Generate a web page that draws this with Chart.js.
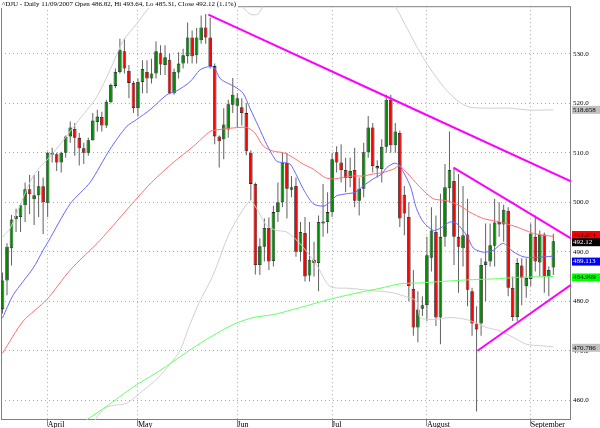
<!DOCTYPE html>
<html lang="en">
<head>
<meta charset="UTF-8">
<title>^DJU Daily</title>
<script src="https://cdn.jsdelivr.net/npm/chart.js"></script>
<style>
  body { margin: 0; padding: 0; background: #fff; }
  .chart-container { position: relative; width: 600px; height: 428px; }
</style>
</head>
<body>
<div class="chart-container"><canvas id="djuChart" width="600" height="428"></canvas></div>
<script>
// Daily candles, late March .. 11 Sep 2007 (one entry per trading day)
const opens = [
  478.4, 484.2, 490.7, 496.6, 497.0, 499.4, 502.6, 500.6, 501.4, 503.2,
  499.9, 509.6, 509.7, 508.0, 510.0, 513.3, 514.8, 513.0, 510.9, 510.0,
  512.5, 516.2, 517.2, 515.5, 520.2, 523.5, 526.3, 530.5, 526.5, 524.1,
  519.0, 524.3, 526.3, 525.0, 526.0, 530.1, 527.7, 528.8, 522.0, 526.2,
  528.0, 529.5, 533.3, 529.7, 532.7, 535.3, 533.3, 527.5, 513.3, 512.7,
  514.7, 519.7, 519.5, 519.2, 518.0, 510.0, 503.7, 487.3, 491.0, 494.8,
  488.1, 498.0, 500.0, 507.9, 502.5, 503.3, 490.0, 493.8, 485.2, 488.4,
  487.7, 495.7, 496.0, 498.0, 510.1, 508.0, 506.5, 504.9, 506.5, 500.3,
  502.7, 510.1, 515.1, 507.3, 506.7, 511.2, 520.7, 511.5, 514.0, 501.5,
  497.0, 482.5, 474.7, 478.5, 479.2, 488.8, 494.0, 476.7, 493.0, 502.8,
  504.3, 493.0, 490.7, 493.5, 482.0, 475.5, 475.5, 487.3, 488.0, 491.2,
  496.0, 495.5, 498.3, 482.7, 476.8, 487.2, 483.0, 484.5, 493.0, 487.8,
  493.5, 485.0, 486.82
];
const highs = [
  485.8, 491.7, 497.4, 498.7, 499.8, 504.0, 505.5, 505.5, 506.3, 505.0,
  510.2, 511.0, 510.0, 510.2, 513.5, 516.3, 516.0, 514.0, 512.0, 513.0,
  518.0, 518.7, 518.3, 520.7, 524.0, 527.0, 533.0, 533.0, 527.7, 524.5,
  525.0, 528.7, 528.7, 529.0, 532.5, 531.7, 531.7, 530.0, 527.0, 530.3,
  531.0, 536.3, 534.7, 535.2, 537.7, 538.0, 537.3, 528.0, 513.5, 519.0,
  520.7, 525.1, 522.0, 521.0, 520.0, 510.5, 504.0, 492.7, 496.7, 496.9,
  499.3, 504.0, 510.0, 510.0, 505.3, 505.0, 496.0, 497.0, 496.0, 492.0,
  497.3, 503.7, 502.0, 510.0, 511.3, 511.7, 509.0, 509.0, 511.0, 505.0,
  512.0, 517.4, 516.0, 508.5, 512.7, 521.7, 521.7, 516.0, 514.5, 503.3,
  500.0, 486.3, 482.0, 481.0, 493.0, 499.0, 497.3, 501.7, 507.7, 514.3,
  507.0, 505.7, 503.3, 500.7, 482.7, 479.0, 488.7, 495.7, 495.7, 500.7,
  500.0, 499.5, 499.0, 485.0, 488.7, 488.7, 488.7, 495.7, 497.3, 494.3,
  493.9, 487.0, 493.64
];
const lows = [
  477.5, 481.2, 487.2, 494.0, 494.0, 496.0, 497.6, 495.4, 497.0, 493.6,
  497.0, 508.0, 506.3, 506.0, 509.0, 512.0, 509.4, 507.4, 507.7, 509.4,
  512.4, 514.3, 514.3, 515.0, 520.0, 523.0, 526.0, 526.0, 521.0, 518.0,
  517.3, 522.0, 522.0, 524.0, 525.0, 525.7, 525.7, 521.8, 521.7, 525.0,
  527.0, 528.0, 528.0, 528.0, 532.0, 532.0, 527.0, 511.7, 507.0, 508.7,
  513.0, 518.0, 515.0, 515.5, 509.5, 500.4, 485.4, 485.3, 488.0, 486.3,
  487.0, 496.0, 499.0, 496.7, 501.0, 489.0, 488.0, 484.0, 484.0, 485.0,
  482.0, 493.0, 493.7, 497.0, 506.0, 504.0, 502.0, 503.0, 499.0, 497.3,
  501.0, 509.0, 506.0, 505.0, 504.0, 510.0, 510.0, 510.0, 495.0, 493.3,
  480.0, 473.0, 471.7, 477.0, 476.0, 486.0, 475.0, 471.3, 491.0, 500.0,
  487.3, 481.7, 487.0, 479.0, 473.0, 457.7, 473.0, 480.0, 487.0, 487.0,
  493.0, 492.0, 481.0, 476.0, 476.0, 479.2, 480.7, 483.0, 486.0, 485.0,
  481.7, 481.0, 485.31
];
const closes = [
  484.2, 491.0, 496.5, 497.2, 499.4, 502.6, 501.6, 501.4, 503.2, 500.0,
  510.0, 510.0, 508.0, 510.0, 513.3, 515.1, 513.0, 510.9, 510.0, 512.5,
  516.5, 517.3, 515.5, 520.3, 523.7, 526.3, 530.8, 527.0, 524.1, 519.0,
  524.3, 526.9, 525.0, 526.0, 530.5, 527.8, 529.3, 522.0, 526.3, 528.0,
  529.7, 533.3, 529.5, 533.3, 535.3, 533.3, 527.5, 513.3, 512.3, 515.7,
  519.8, 521.7, 521.0, 518.0, 510.3, 503.7, 487.3, 491.1, 494.8, 488.0,
  498.0, 500.0, 508.0, 502.7, 503.0, 490.0, 494.0, 485.0, 488.4, 487.7,
  496.0, 496.1, 498.0, 508.7, 508.0, 506.5, 504.9, 506.3, 500.3, 502.7,
  510.1, 515.1, 507.3, 506.8, 511.2, 520.7, 511.5, 514.3, 496.7, 497.7,
  483.0, 474.7, 478.3, 479.2, 489.3, 494.3, 476.7, 493.0, 503.0, 506.5,
  493.0, 491.0, 493.3, 482.3, 475.5, 474.3, 487.3, 488.0, 491.3, 495.9,
  495.5, 498.5, 482.7, 476.8, 487.7, 484.7, 484.7, 493.7, 488.0, 493.5,
  485.0, 486.3, 492.12
];

// month starts (candle index) and their labels
const monthIdx = [10, 30, 52, 73, 94, 117];
const monthLabels = ['April', 'May', 'Jun', 'Jul', 'August', 'September'];
const yTicks = [460, 470, 480, 490, 500, 510, 520, 530];

// overlays as [candle index, value]
const ma20 = [
  [0, 476.6], [2.4, 481.3], [6.8, 486.7], [9.0, 490.3], [10.1, 492], [15, 499.7], [19.4, 504],
  [23.8, 510.7], [27.5, 515.3], [29.7, 516.7], [32.7, 518.7], [36.4, 521.7], [38.6, 522.5],
  [41.5, 524.3], [43.7, 526.7], [45.2, 527.3], [46.7, 527.3], [48.2, 525], [49.3, 524.3],
  [51.5, 523.3], [53.3, 522], [54.8, 519], [56.7, 515.3], [58.5, 511.7], [60.7, 508.3],
  [62.2, 508], [63.7, 507.7], [65.2, 505.3], [66.6, 502.7], [68.8, 499.7], [71.1, 499.2],
  [72.5, 500], [74, 501.3], [76.2, 501.7], [78.1, 502], [79.9, 503.3], [82.1, 504.7],
  [84, 505.7], [85.1, 507], [86.9, 507.9], [88, 507.3], [90.3, 503.3], [91.7, 498.7],
  [93.2, 496], [95.4, 494.3], [96.9, 494.7], [99.1, 496], [100.6, 495.7], [102.8, 493.3],
  [104.3, 490.7], [106.5, 489.9], [108.7, 490.3], [110.9, 491.7], [113.1, 490], [115.3, 489],
  [117.6, 488.8], [122, 489.113]
];
const ma50 = [
  [0, 469.5], [4.6, 476], [9.8, 480.3], [15, 486.3], [21.6, 492.3], [29, 500], [33, 504],
  [37.8, 508], [42.3, 511.3], [46, 514.3], [48.2, 514.7], [51.1, 515], [54.1, 515.1],
  [55.9, 514], [57.8, 511.3], [60, 510.3], [62.2, 510], [64.4, 509], [66.6, 507.7],
  [68.8, 506.7], [71.4, 505], [73.3, 504.7], [75.5, 505], [77.7, 505.3], [79.9, 505.3],
  [82.1, 505.7], [84.3, 506], [86.6, 506.7], [88, 507.3], [92.5, 503], [95.4, 500.7],
  [98.4, 500.3], [101.3, 499.3], [103.5, 498], [106.5, 496.7], [110.2, 496], [113.9, 495],
  [117.6, 493.7], [122, 493.074]
];
const ma200 = [
  [15, 453.7], [18.6, 456], [23.1, 458.8], [29, 462.7], [34.9, 466], [40.8, 469.7],
  [45.2, 472.3], [51.1, 475.3], [55.5, 476.7], [60, 477.3], [65.9, 478.7], [72.5, 480.4],
  [79.2, 481.8], [83.6, 482.6], [88, 483.5], [92.5, 483.7], [97.6, 484], [102.8, 484.3],
  [108.7, 484.5], [113.9, 484.8], [122, 484.999]
];
const bandUpper = [
  [0, 493], [1.7, 494.7], [6.8, 505.3], [11.3, 510], [16.4, 516], [20.9, 521.3], [23.8, 526.7],
  [26.8, 532.7], [29.7, 536], [31.9, 538.7], [33.4, 540], [39.3, 544], [48.2, 543],
  [52.6, 540], [54.8, 538], [56.6, 538], [58.1, 540], [65.9, 543], [77, 542], [86.3, 540],
  [89.1, 536], [92, 531], [94.7, 527], [98, 523], [100.9, 520.4], [103.5, 519.2], [108, 519],
  [112.4, 519], [116.8, 518.6], [122, 518.658]
];
const bandLower = [
  [17, 450], [20.5, 456], [23.1, 458.6], [27.5, 459.4], [31.2, 462], [34.2, 464.3], [37.1, 467.3],
  [39.3, 470], [41.5, 475.3], [43.7, 480], [46, 484], [47.4, 487], [50.4, 494], [54.8, 500.3],
  [56.3, 498.7], [58.5, 495.3], [60.7, 494.3], [62.9, 494], [65.2, 492.3], [67.4, 490],
  [69.6, 487.3], [72.5, 483], [77, 482.6], [81.4, 482.2], [85.8, 481.8], [88, 481.3],
  [91.7, 480], [92.5, 476.7], [95.4, 476.3], [99.1, 476.7], [102.8, 476.3], [107.2, 474.7],
  [110.2, 474], [113.1, 472.7], [116.1, 471.3], [119.1, 471], [122, 470.786]
];
const trendTop = [[45.6, 537.9], [125.9, 504.2]];
const trendMid = [[99.9, 507.0], [125.9, 492.7]];
const trendLow = [[105.2, 470.0], [125.9, 483.3]];

const titleText = '^DJU - Daily 11/09/2007 Open 486.82, Hi 493.64, Lo 485.31, Close 492.12 (1.1%)';
const lastValues = [518.658, 493.074, 492.12, 489.113, 484.999, 470.786];

const toXY = pts => pts.map(p => ({ x: p[0], y: p[1] }));
const wicks = lows.map((l, i) => ({ x: i, y: [l, highs[i]] }));
const bodies = opens.map((o, i) => ({ x: i, y: [o, closes[i]] }));
const bodyColors = opens.map((o, i) => closes[i] >= o ? '#008c00' : '#ff0000');

function line(pts, color, width, order) {
  return {
    type: 'line', data: toXY(pts), borderColor: color, borderWidth: width,
    pointRadius: 0, tension: 0.25, fill: false, order: order
  };
}

// title over the top frame line
const titlePlugin = {
  id: 'titleText',
  afterDraw(chart) {
    const ctx = chart.ctx;
    ctx.save();
    ctx.font = '7px "Liberation Serif"';
    const w = ctx.measureText(titleText).width;
    ctx.fillStyle = '#fff';
    ctx.fillRect(0, 0, w + 4, 8);
    ctx.fillStyle = '#000';
    ctx.textBaseline = 'middle';
    ctx.fillText(titleText, 2, 4);
    ctx.restore();
  }
};

// frame round the plot
const framePlugin = {
  id: 'frame',
  beforeDatasetsDraw(chart) {
    const a = chart.chartArea;
    const ctx = chart.ctx;
    ctx.save();
    ctx.strokeStyle = '#808080';
    ctx.lineWidth = 1;
    ctx.strokeRect(a.left + 0.5, a.top + 0.5, a.right - a.left - 1, a.bottom - a.top - 1);
    ctx.restore();
  }
};

// coloured last-value boxes on the right
const valueBoxPlugin = {
  id: 'valueBoxes',
  afterDraw(chart) {
    const ctx = chart.ctx;
    const y = chart.scales.y;
    const styles = [
      { bg: '#c0c0c0', fg: '#000', dy: 0 },
      { bg: '#ff0000', fg: '#000', dy: -1.5 },
      { bg: '#000000', fg: '#fff', dy: 1 },
      { bg: '#0000ff', fg: '#fff', dy: 5.5 },
      { bg: '#00ff00', fg: '#000', dy: 1 },
      { bg: '#c0c0c0', fg: '#000', dy: 1 }
    ];
    ctx.save();
    ctx.font = '7px "Liberation Serif"';
    ctx.textBaseline = 'middle';
    lastValues.forEach((v, i) => {
      const s = styles[i];
      const py = y.getPixelForValue(v) + s.dy;
      ctx.fillStyle = s.bg;
      ctx.fillRect(572, py - 4, 28, 8);
      ctx.fillStyle = s.fg;
      ctx.fillText(String(v), 573, py);
    });
    ctx.restore();
  }
};

new Chart(document.getElementById('djuChart'), {
  type: 'bar',
  data: {
    datasets: [
      line(trendTop, '#ff00ff', 2, -2),
      line(trendMid, '#ff00ff', 2, -2),
      line(trendLow, '#ff00ff', 2, -2),
      line(ma20, '#6666ff', 1, -1),
      line(ma50, '#ff7070', 1, -1),
      line(ma200, '#66ff66', 1, -1),
      line(bandUpper, '#cfcfcf', 1, -1),
      line(bandLower, '#cfcfcf', 1, -1),
      {
        type: 'bar', data: bodies, backgroundColor: bodyColors, borderColor: '#222',
        borderWidth: 0.8, borderSkipped: false, barThickness: 3.6, grouped: false,
        inflateAmount: 0, order: 1
      },
      {
        type: 'bar', data: wicks, backgroundColor: '#606060', barThickness: 1,
        grouped: false, inflateAmount: 0, order: 2
      }
    ]
  },
  options: {
    responsive: false,
    animation: false,
    devicePixelRatio: 1,
    layout: { padding: { left: 1, top: 2, right: 0, bottom: 0 } },
    plugins: { legend: { display: false }, tooltip: { enabled: false } },
    scales: {
      x: {
        type: 'linear', position: 'bottom', min: -0.332, max: 125.914,
        offset: false,
        afterBuildTicks: s => { s.ticks = monthIdx.map(v => ({ value: v })); },
        afterFit: s => { s.height = 8; },
        ticks: {
          autoSkip: false, maxRotation: 0, align: 'start', padding: -6,
          color: '#000', font: { family: 'Liberation Serif', size: 8 },
          callback: (v, i) => monthLabels[i]
        },
        grid: { offset: false, color: '#a8a8a8', drawTicks: true, tickLength: 6, tickColor: '#888', tickBorderDash: [] },
        border: { display: false, dash: [1, 3] }
      },
      y: {
        type: 'linear', position: 'right', min: 456, max: 539.6,
        afterBuildTicks: s => { s.ticks = yTicks.map(v => ({ value: v })); },
        afterFit: s => { s.width = 29; },
        ticks: {
          padding: 2, color: '#000', font: { family: 'Liberation Serif', size: 7 },
          callback: v => v.toFixed(1)
        },
        grid: { color: '#a8a8a8', drawTicks: false },
        border: { display: false, dash: [1, 3] }
      }
    }
  },
  plugins: [framePlugin, titlePlugin, valueBoxPlugin]
});
</script>
</body>
</html>
